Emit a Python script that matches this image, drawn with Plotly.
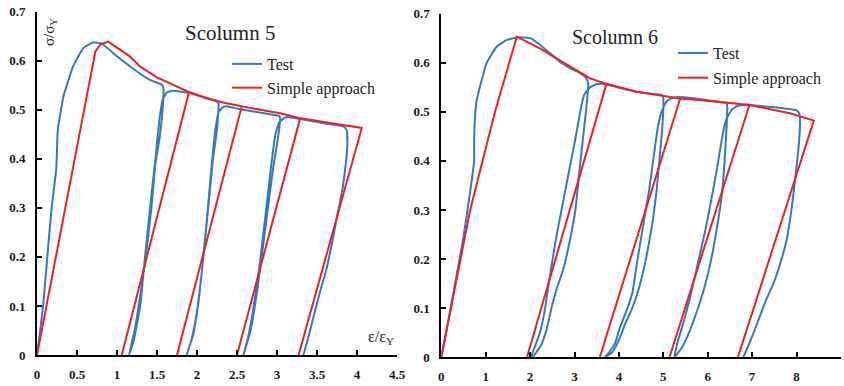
import plotly.graph_objects as go

# ---------------- data ----------------
# Scolumn 5 - Test
x5_test = [0, 0.04, 0.08, 0.14, 0.18, 0.22, 0.24, 0.25, 0.26, 0.33, 0.45, 0.58, 0.70, 0.81, 1.0, 1.25, 1.41, 1.56, 1.58,
           1.57, 1.53, 1.48, 1.43, 1.36, 1.29, 1.22, 1.15,
           1.21, 1.29, 1.35, 1.42, 1.48, 1.53, 1.57, 1.62, 1.70, 1.91, 2.1, 2.25, 2.27,
           2.25, 2.20, 2.14, 2.08, 2.02, 1.95, 1.87,
           1.93, 2.0, 2.06, 2.12, 2.18, 2.23, 2.27, 2.32, 2.37, 2.54, 2.8, 2.95, 3.03, 3.04,
           3.01, 2.96, 2.91, 2.84, 2.76, 2.67, 2.58,
           2.63, 2.70, 2.78, 2.86, 2.93, 2.98, 3.03, 3.1, 3.16, 3.4, 3.6, 3.83, 3.87,
           3.88, 3.86, 3.82, 3.76, 3.69, 3.61, 3.54, 3.46, 3.39, 3.33]
y5_test = [0, 0.05, 0.106, 0.221, 0.296, 0.35, 0.378, 0.42, 0.459, 0.527, 0.588, 0.626, 0.637, 0.635, 0.609, 0.578, 0.561, 0.551, 0.544,
           0.50, 0.44, 0.39, 0.30, 0.20, 0.12, 0.05, 0.0,
           0.03, 0.10, 0.20, 0.31, 0.40, 0.48, 0.52, 0.535, 0.539, 0.534, 0.524, 0.517, 0.512,
           0.46, 0.40, 0.30, 0.20, 0.11, 0.04, 0.0,
           0.03, 0.09, 0.17, 0.27, 0.38, 0.46, 0.495, 0.505, 0.507, 0.501, 0.494, 0.49, 0.487, 0.482,
           0.44, 0.39, 0.33, 0.24, 0.14, 0.05, 0.0,
           0.03, 0.09, 0.18, 0.29, 0.39, 0.45, 0.475, 0.484, 0.485, 0.478, 0.472, 0.466, 0.459,
           0.43, 0.39, 0.34, 0.29, 0.23, 0.17, 0.13, 0.08, 0.035, 0.0]

# Scolumn 5 - Simple approach
x5_simple = [0, 0.73, 0.79, 0.89, 1.16, 1.29, 1.5, 1.70, 1.90, 1.06, 1.90, 2.12, 2.35, 2.56, 1.75, 2.56,
             2.79, 3.04, 3.29, 2.50, 3.29, 3.7, 4.06, 3.27]
y5_simple = [0, 0.619, 0.633, 0.639, 0.609, 0.588, 0.566, 0.551, 0.536, 0.0, 0.536, 0.524, 0.514, 0.507, 0.0, 0.507,
             0.500, 0.493, 0.483, 0.0, 0.483, 0.472, 0.463, 0.0]

# Scolumn 6 - Test
x6_test = [0, 0.2, 0.4, 0.5, 0.59, 0.67, 0.74, 0.74, 0.76, 0.8, 0.87, 1.02, 1.25, 1.47, 1.73, 2.0, 2.2, 2.45, 2.7, 2.9, 3.1, 3.22, 3.28, 3.31,
           3.28, 3.22, 3.16, 3.10, 3.02, 2.9, 2.75, 2.6, 2.48, 2.38, 2.25, 2.1, 2.02,
           2.1, 2.22, 2.32, 2.42, 2.58, 2.75, 2.9, 3.03, 3.15, 3.22, 3.35, 3.5, 3.65, 4.0, 4.4, 4.8, 4.97, 5.0,
           4.98, 4.92, 4.85, 4.75, 4.62, 4.45, 4.3, 4.15, 4.0, 3.85, 3.68,
           3.78, 3.92, 4.02, 4.15, 4.3, 4.42, 4.55, 4.68, 4.8, 4.88, 4.96, 5.08, 5.2, 5.4, 5.8, 6.2, 6.42, 6.44,
           6.42, 6.38, 6.33, 6.22, 6.08, 5.92, 5.78, 5.6, 5.42, 5.25,
           5.32, 5.45, 5.6, 5.75, 5.95, 6.1, 6.22, 6.33, 6.42, 6.55, 6.7, 6.9, 7.3, 7.7, 8.0, 8.06, 8.08,
           8.05, 7.98, 7.9, 7.78, 7.63, 7.48, 7.33, 7.18, 7.03, 6.9, 6.8]
y6_test = [0, 0.095, 0.195, 0.245, 0.30, 0.35, 0.40, 0.44, 0.49, 0.525, 0.551, 0.599, 0.633, 0.646, 0.652, 0.65, 0.638, 0.619, 0.60, 0.589, 0.58, 0.573, 0.566, 0.555,
           0.52, 0.47, 0.42, 0.37, 0.30, 0.24, 0.18, 0.14, 0.10, 0.06, 0.025, 0.005, 0.0,
           0.02, 0.05, 0.09, 0.15, 0.24, 0.32, 0.39, 0.45, 0.51, 0.535, 0.55, 0.556, 0.557, 0.549, 0.541, 0.536, 0.534, 0.528,
           0.47, 0.41, 0.34, 0.27, 0.205, 0.14, 0.10, 0.07, 0.035, 0.01, 0.0,
           0.01, 0.03, 0.06, 0.09, 0.13, 0.20, 0.27, 0.34, 0.42, 0.47, 0.50, 0.522, 0.528, 0.530, 0.526, 0.521, 0.518, 0.512,
           0.46, 0.40, 0.34, 0.27, 0.20, 0.14, 0.10, 0.055, 0.02, 0.0,
           0.03, 0.07, 0.12, 0.18, 0.26, 0.33, 0.39, 0.45, 0.485, 0.505, 0.513, 0.514, 0.511, 0.507, 0.503, 0.497, 0.48,
           0.43, 0.37, 0.31, 0.24, 0.19, 0.15, 0.12, 0.085, 0.049, 0.02, 0.0]

# Scolumn 6 - Simple approach
x6_simple = [0, 0.65, 1.21, 1.70, 2.22, 2.9, 3.35, 3.72, 1.93, 3.72, 4.40, 5.0, 5.38, 3.57, 5.38,
             5.8, 6.28, 6.94, 5.14, 6.94, 7.85, 8.39, 6.68]
y6_simple = [0, 0.30, 0.50, 0.653, 0.629, 0.592, 0.568, 0.557, 0.0, 0.557, 0.541, 0.533, 0.527, 0.0, 0.527,
             0.524, 0.520, 0.514, 0.0, 0.514, 0.497, 0.482, 0.0]

x5_ticks = [0, 0.5, 1, 1.5, 2, 2.5, 3, 3.5, 4, 4.5]
x6_ticks = [0, 1, 2, 3, 4, 5, 6, 7, 8, 9]
y_ticks = [0, 0.1, 0.2, 0.3, 0.4, 0.5, 0.6, 0.7]

# ---------------- styling ----------------
W, H = 844, 386
BLUE = "#3479bb"
RED = "#ee1f24"
SERIF = "Liberation Serif"

def px_x(p):
    return p / W

def px_y(p):
    return (H - p) / H

fig = go.Figure()

blue_line = dict(color=BLUE, width=2, shape="spline", smoothing=0.35)
red_line = dict(color=RED, width=2)

fig.add_trace(go.Scatter(x=x5_test, y=y5_test, mode="lines", line=blue_line, name="Test",
                         xaxis="x", yaxis="y", legend="legend", legendgroup="a"))
fig.add_trace(go.Scatter(x=x5_simple, y=y5_simple, mode="lines", line=red_line, name="Simple approach",
                         xaxis="x", yaxis="y", legend="legend", legendgroup="b"))
fig.add_trace(go.Scatter(x=x6_test, y=y6_test, mode="lines", line=blue_line, name="Test",
                         xaxis="x2", yaxis="y2", legend="legend2", legendgroup="c"))
fig.add_trace(go.Scatter(x=x6_simple, y=y6_simple, mode="lines", line=red_line, name="Simple approach",
                         xaxis="x2", yaxis="y2", legend="legend2", legendgroup="d"))

tickfont = dict(family=SERIF, size=13, color="#1a1a1a", weight="bold")
axis_common = dict(showgrid=False, zeroline=False, showline=True, linecolor="black", linewidth=2,
                   ticks="inside", ticklen=5, tickwidth=2, tickcolor="black", tickfont=tickfont,
                   automargin=False)

fig.update_layout(
    width=W, height=H, margin=dict(l=0, r=0, t=0, b=0, autoexpand=False),
    paper_bgcolor="white", plot_bgcolor="white",
    xaxis=dict(domain=[px_x(37), px_x(397)], range=[0, 4.5], tickvals=x5_ticks, anchor="y",
               ticklabelstandoff=6, **axis_common),
    yaxis=dict(domain=[px_y(355), px_y(11.7)], range=[0, 0.7], tickvals=y_ticks, anchor="x",
               ticklabelstandoff=7, **axis_common),
    xaxis2=dict(domain=[px_x(441.3), px_x(840.9)], range=[0, 9], tickvals=x6_ticks, anchor="y2",
                ticklabelstandoff=6, **axis_common),
    yaxis2=dict(domain=[px_y(357.3), px_y(13.6)], range=[0, 0.7], tickvals=y_ticks, anchor="x2",
                ticklabelstandoff=7, **axis_common),
    legend=dict(x=px_x(227), y=px_y(47), xanchor="left", yanchor="top", bgcolor="rgba(0,0,0,0)",
                font=dict(family=SERIF, size=16, color="#222"), tracegroupgap=0, itemwidth=30),
    legend2=dict(x=px_x(673), y=px_y(36), xanchor="left", yanchor="top", bgcolor="rgba(0,0,0,0)",
                 font=dict(family=SERIF, size=16, color="#222"), tracegroupgap=1, itemwidth=30),
    showlegend=True,
    annotations=[
        dict(text="Scolumn 5", x=px_x(230), y=px_y(33), xref="paper", yref="paper", showarrow=False,
             xanchor="center", yanchor="middle", font=dict(family=SERIF, size=21, color="#222")),
        dict(text="Scolumn 6", x=px_x(615), y=px_y(37), xref="paper", yref="paper", showarrow=False,
             xanchor="center", yanchor="middle", font=dict(family=SERIF, size=20, color="#222")),
        dict(text="σ/σ<sub>Y</sub>", x=px_x(50), y=px_y(32), xref="paper", yref="paper", showarrow=False,
             xanchor="center", yanchor="middle", textangle=-90, font=dict(family=SERIF, size=15, color="#222")),
        dict(text="ε/ε<sub>Y</sub>", x=px_x(381), y=px_y(337), xref="paper", yref="paper", showarrow=False,
             xanchor="center", yanchor="middle", font=dict(family=SERIF, size=16, color="#222")),
    ],
)

fig.write_html("out.html", config={"displayModeBar": False},
               post_script="document.body.style.margin='0px';")
